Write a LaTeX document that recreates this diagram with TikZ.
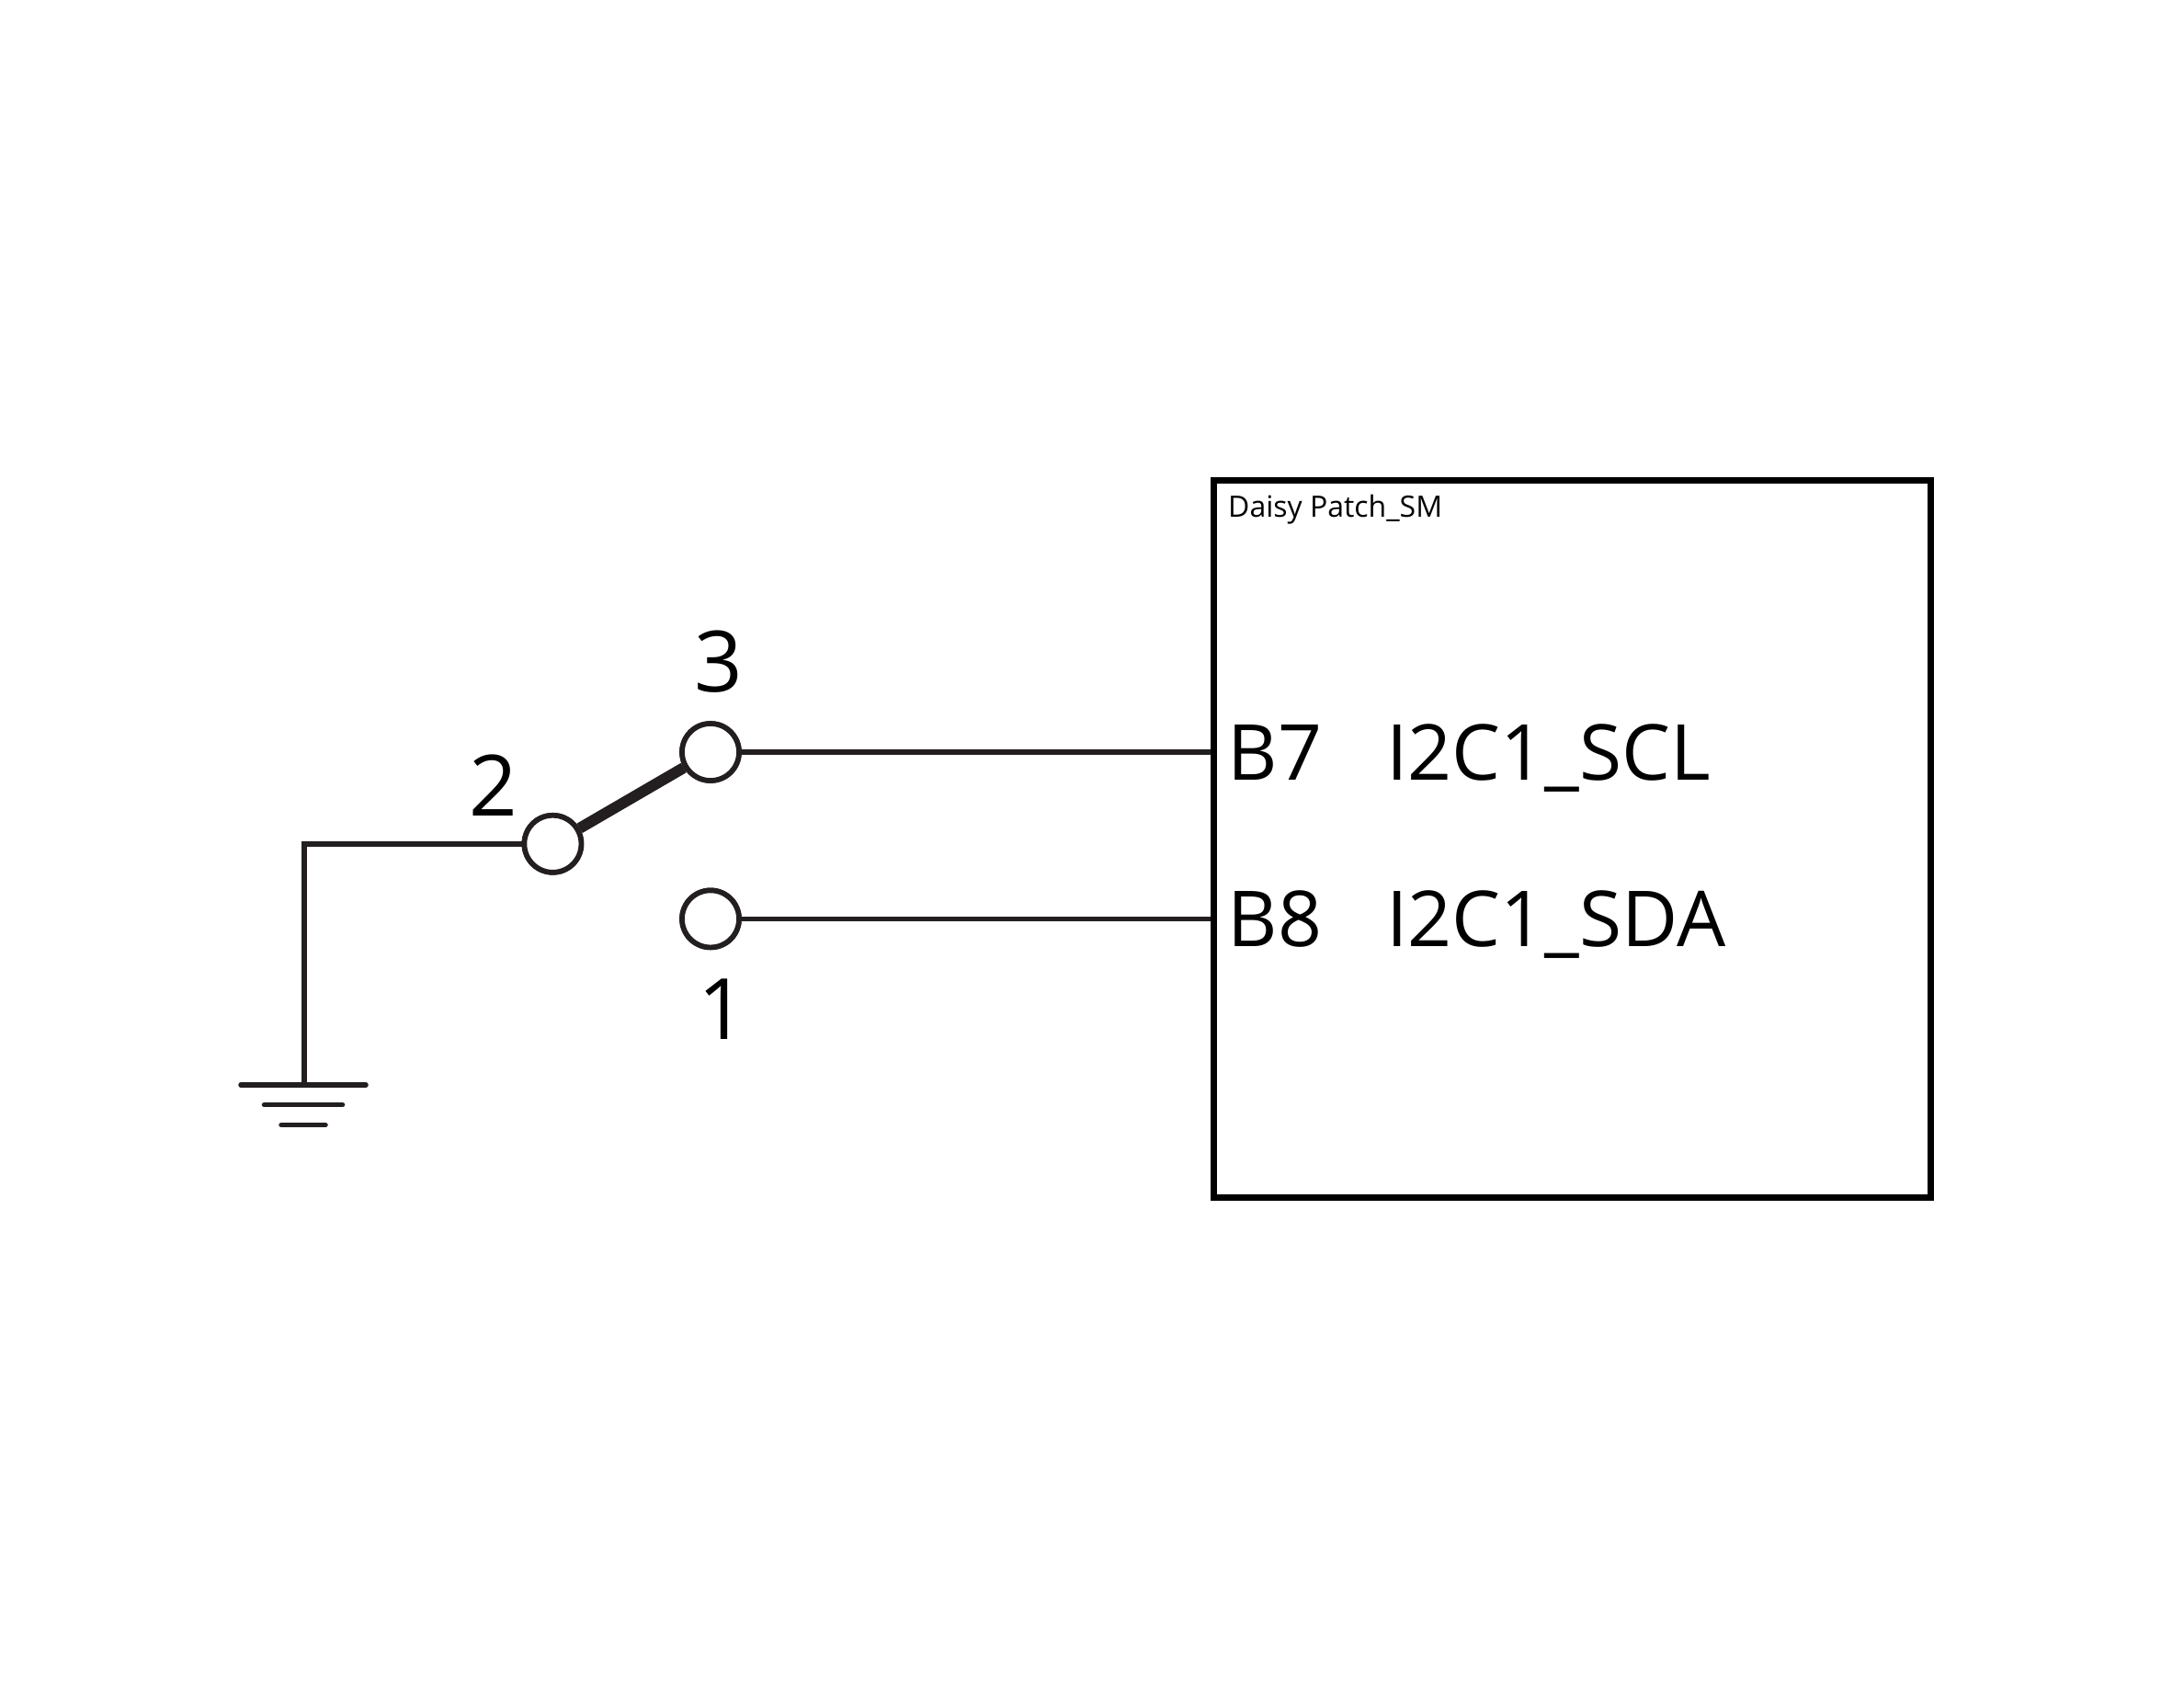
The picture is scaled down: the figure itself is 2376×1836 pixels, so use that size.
\documentclass[tikz,border=0pt]{standalone}
\usepackage{fontspec}
\setmainfont{Open Sans}
\usetikzlibrary{calc}
\definecolor{wirecol}{HTML}{231F20}
\tikzset{ pin/.style = { circle
                       , draw = wirecol
                       , line width = 5.7pt
                       , fill = white
                       , inner sep    = 0pt
                       , minimum size = 62pt
                       },
          wire/.style = { draw = wirecol
                        , line width = 5.5pt
                        },
          bar/.style = { wire
                       , line cap = round
                       },
          part/.style = { draw = black
                        , line width = 6.5pt
                        , inner sep = 0pt
                        , minimum width = 780pt
                        , minimum height = 780pt
                        },
          big/.style = { font = \fontsize{84}{84}\selectfont
                       , anchor = base west
                       , inner sep = 0pt
                       , text = black
                       },
          num/.style = { big
                       , font = \fontsize{92}{92}\selectfont
                       }
        }

\begin{document}
\begin{tikzpicture}[x=1pt, y=-1pt]
          \useasboundingbox (0,0) rectangle (2376,1836);
          \node[part] (chip) at (1710.5,912.5) {};
          \node[pin] (p2) at (601.4,917.8) {};
          \node[pin] (p3) at (773,818) {};
          \node[pin] (p1) at (773,999.4) {};
          \coordinate (corner) at (331,917.8);
          \coordinate (gnd) at (331,1180);
          % ground bars
          \foreach \n/\w/\y in {a/68/1180, b/42.5/1201.7, c/24/1223.5} {
            \coordinate (\n l) at ($(330,\y) + (-\w,0)$);
            \coordinate (\n r) at ($(330,\y) + (\w,0)$);
            \draw[bar] (\n l) -- (\n r);
          }
          \draw[wire] (p2) -- (corner) -- (gnd);
          \draw[wire] (p3) -- (p3 -| chip.west)
                      (p1) -- (p1 -| chip.west);
          \draw[wirecol, line width=12pt] (p2) -- (p3);
          % pins again, over the lever
          \node[pin] at (p2) {};
          \node[pin] at (p3) {};
          \node[pin] at (p1) {};
          \node[num] (n3) at (755,752.9) {3};
          \node[num] (n2) at (510,887.4) {2};
          \node[num] (n1) at (759,1130.5) {1};
          \node[big] (b7) at (1335.5,848.5) {B7};
          \node[big] (b8) at (1335.5,1029) {B8};
          \node[big] (scl) at (1508,848.5) {I2C1\_SCL};
          \node[big] (sda) at (1508,1029) {I2C1\_SDA};
          \node[big, font=\fontsize{32}{32}\selectfont] (name) at (1336,562.2) {Daisy Patch\_SM};
        \end{tikzpicture}
\end{document}
